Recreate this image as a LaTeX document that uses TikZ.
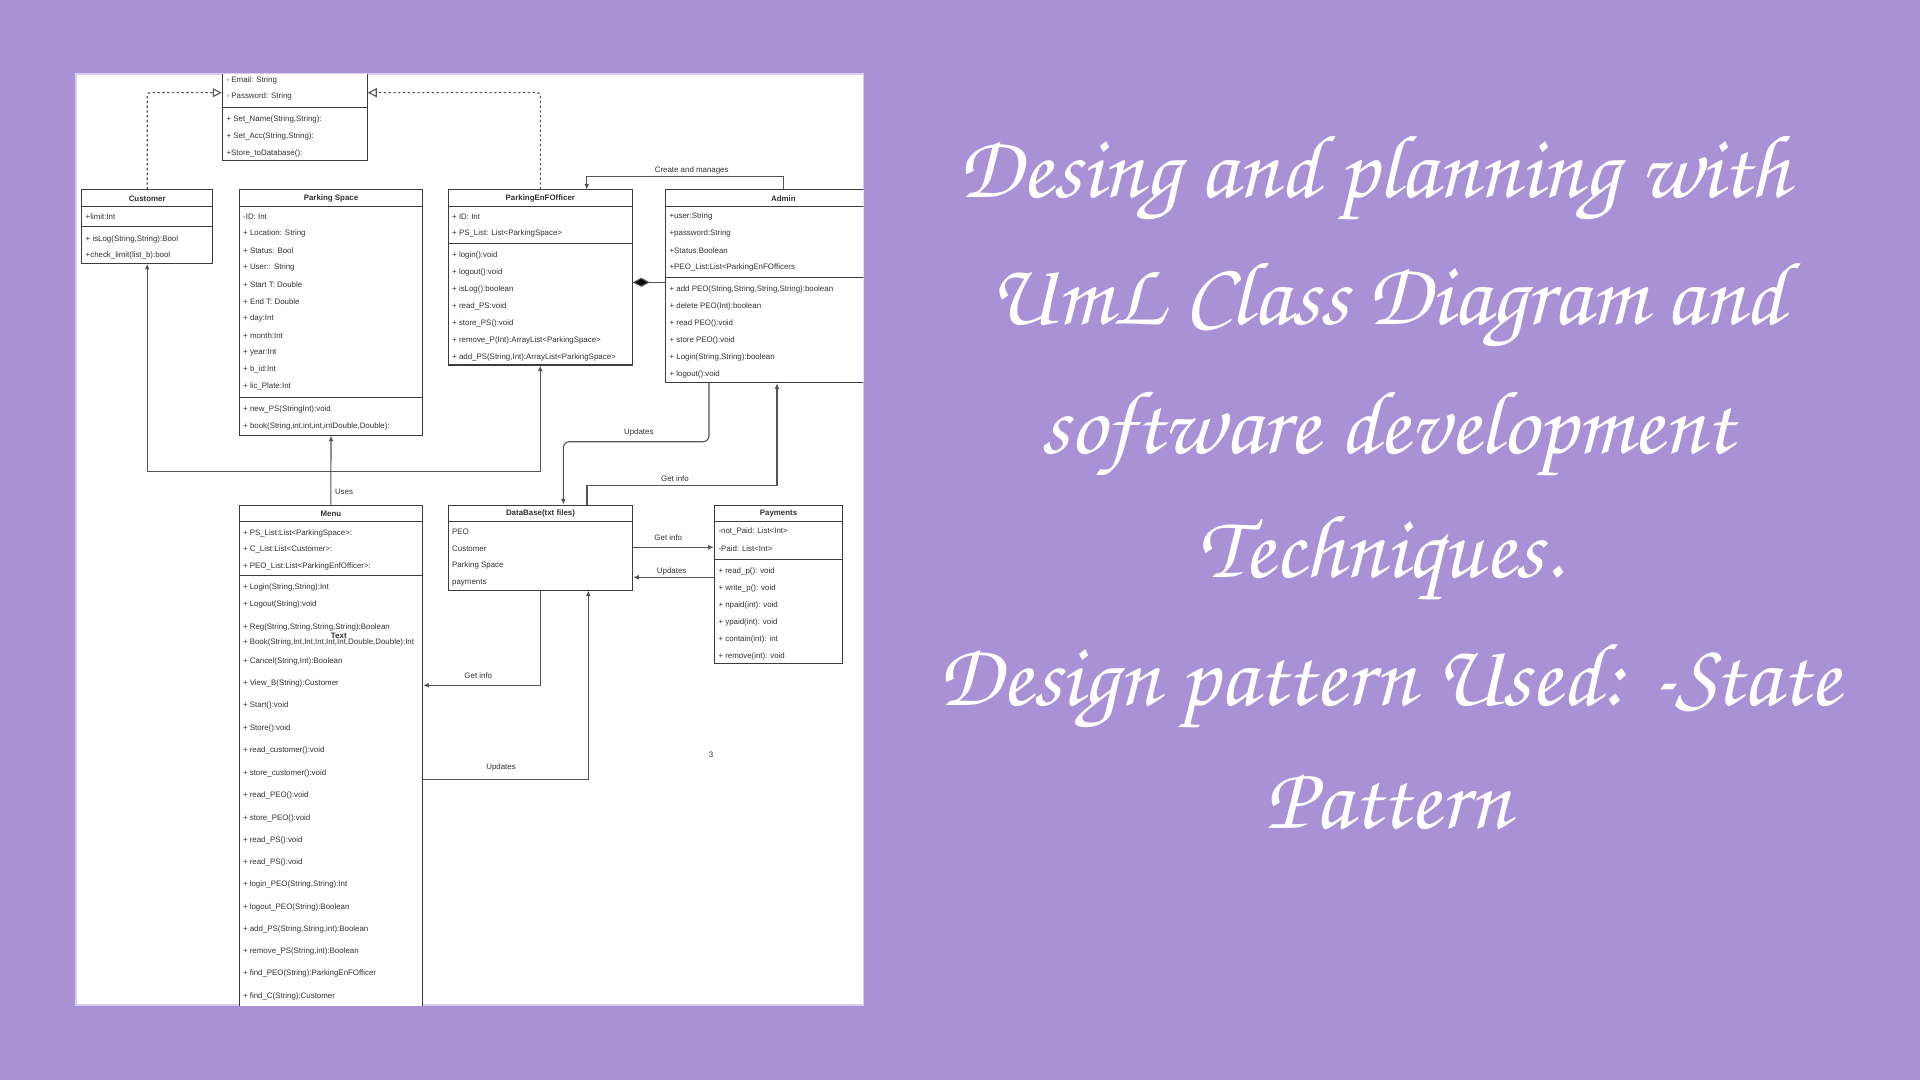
\documentclass[tikz,border=0pt]{standalone}
\usepackage{fontspec}
\setmainfont{Liberation Sans}
\newfontfamily\titlefont{texgyrechorus-mediumitalic.otf}
\usetikzlibrary{arrows.meta,fit}
\definecolor{bgc}{RGB}{168,146,213}
\definecolor{panelb}{RGB}{214,204,238}
\definecolor{boxc}{RGB}{60,60,60}
\definecolor{linec}{RGB}{85,85,85}
\definecolor{txtc}{RGB}{50,50,50}
\newcommand\diafont{\fontsize{3.95}{4.6}\selectfont}
\tikzset{
 boxst/.style={draw=boxc, line width=0.5pt, fill=white, inner sep=0pt},
 sepl/.style={draw=boxc, line width=0.5pt},
 rowtxt/.style={anchor=west, inner sep=0pt, font=\diafont, text=txtc},
 ttl/.style={inner sep=0pt, font=\diafont\bfseries, text=txtc},
 conn/.style={draw=linec, line width=0.55pt},
 dconn/.style={conn, dash pattern=on 1.2pt off 1.2pt, rounded corners=1.5pt},
 lbl/.style={inner sep=0pt, font=\diafont, text=txtc},
 tip/.style={-{Latex[length=2.8pt,width=2.4pt]}},
 tipb/.style={{Latex[length=2.8pt,width=2.4pt]}-{Latex[length=2.8pt,width=2.4pt]}},
 otri/.style={-{Triangle[open,length=4.5pt,width=4.5pt,fill=white]}},
 bigt/.style={anchor=base, inner sep=0pt, text=white, font=\titlefont\fontsize{45}{54}\selectfont}
}
\begin{document}
\begin{tikzpicture}[x=0.5pt,y=-0.5pt]
\fill[bgc] (0,0) rectangle (1920,1080);
\useasboundingbox (0,0) rectangle (1920,1080);
\fill[white] (76,74.3) rectangle (863.3,1005);
\draw[panelb, line width=0.8pt] (76,74.3) rectangle (863.3,1005);
\begin{scope}
\clip (76,74.3) rectangle (863.3,1005);
% boxes
\node[boxst, fit={(222.3,40) (367.3,160.7)}] (acc) {};
\node[boxst, fit={(81.7,190) (212.7,263.3)}] (cust) {};
\node[boxst, fit={(239.3,190) (422.7,435)}] (ps) {};
\node[boxst, fit={(448.3,190) (632.3,365)}] (peo) {};
\node[boxst, fit={(665.7,190) (901,382.7)}] (admin) {};
\node[boxst, fit={(239,505) (422.7,1030)}] (menu) {};
\node[boxst, fit={(448.3,505) (632.7,590)}] (db) {};
\node[boxst, fit={(714.3,505) (842.7,663.3)}] (pay) {};
% separators
\draw[sepl] (acc.west |- 0,107.3) -- (acc.east |- 0,107.3);
\foreach \b/\ya/\yb in {cust/206.7/226.7, ps/206.7/397.3, peo/206.7/243.3, admin/206.7/277.7, menu/521.7/575, pay/521.7/559}{
  \draw[sepl] (\b.west |- 0,\ya) -- (\b.east |- 0,\ya);
  \draw[sepl] (\b.west |- 0,\yb) -- (\b.east |- 0,\yb);
}
\draw[sepl] (db.west |- 0,521.7) -- (db.east |- 0,521.7);
% titles
\node[ttl] (cust-t) at (cust.north |- 0,198.8) {Customer};
\node[ttl] (ps-t) at (ps.north |- 0,198.8) {Parking Space};
\node[ttl] (peo-t) at (peo.north |- 0,198.8) {ParkingEnFOfficer};
\node[ttl] (admin-t) at (admin.north |- 0,198.8) {Admin};
\node[ttl] (menu-t) at (menu.north |- 0,513.8) {Menu};
\node[ttl] (db-t) at (db.north |- 0,513.8) {DataBase(txt files)};
\node[ttl] (pay-t) at (pay.north |- 0,513.8) {Payments};
% acc rows
\foreach \yy/\t [count=\i] in {80/{- Email: String}, 96.7/{- Password: String}, 119.7/{+ Set\_Name(String,String):}, 136.4/{+ Set\_Acc(String,String):}, 153/{+Store\_toDatabase():}}
  \node[rowtxt] (acc-r\i) at (226.2,\yy) {\t};
% customer
\foreach \yy/\t [count=\i] in {216.4/{+limit:Int}, 239/{+ isLog(String,String):Bool}, 255.7/{+check\_limit(list\_b):bool}}
  \node[rowtxt] (cust-r\i) at (85.3,\yy) {\t};
% parking space
\foreach \t [count=\i] in {{-ID: Int}, {+ Location: String}, {+ Status: Bool}, {+ User:: String}, {+ Start T: Double}, {+ End T: Double}, {+ day:Int}, {+ month:Int}, {+ year:Int}, {+ b\_id:Int}, {+ lic\_Plate:Int}}
  \node[rowtxt] (ps-a\i) at (242.8,{216.4+17.03*(\i-1)}) {\t};
\node[rowtxt] (ps-m1) at (242.8,409.7) {+ new\_PS(StringInt):void};
\node[rowtxt] (ps-m2) at (242.8,426.7) {+ book(String,int,int,int,intDouble,Double):};
% peo
\node[rowtxt] (peo-a1) at (451.8,216.4) {+ ID: Int};
\node[rowtxt] (peo-a2) at (451.8,233.4) {+ PS\_List: List<ParkingSpace>};
\foreach \t [count=\i] in {{+ login():void}, {+ logout():void}, {+ isLog():boolean}, {+ read\_PS:void}, {+ store\_PS():void}, {+ remove\_P(Int):ArrayList<ParkingSpace>}, {+ add\_PS(String,Int):ArrayList<ParkingSpace>}}
  \node[rowtxt] (peo-m\i) at (451.8,{255.7+16.95*(\i-1)}) {\t};
% admin
\foreach \t [count=\i] in {{+user:String}, {+password:String}, {+Status:Boolean}, {+PEO\_List:List<ParkingEnFOfficers}}
  \node[rowtxt] (admin-a\i) at (669.2,{216.4+17*(\i-1)}) {\t};
\foreach \t [count=\i] in {{+ add PEO(String,String,String,String):boolean}, {+ delete PEO(Int):boolean}, {+ read PEO():void}, {+ store PEO():void}, {+ Login(String,String):boolean}, {+ logout():void}}
  \node[rowtxt] (admin-m\i) at (669.2,{289.7+17.05*(\i-1)}) {\t};
% menu
\foreach \yy/\t [count=\i] in {533/{+ PS\_List:List<ParkingSpace>:}, 549.7/{+ C\_List:List<Customer>:}, 566.4/{+ PEO\_List:List<ParkingEnfOfficer>:}}
  \node[rowtxt] (menu-a\i) at (242.6,\yy) {\t};
\foreach \yy/\t [count=\i] in {587.4/{+ Login(String,String):Int}, 604/{+ Logout(String):void}, 627.4/{+ Reg(String,String,String,String):Boolean}, 642.4/{+ Book(String,Int,Int,Int,Int,Int,Double,Double):Int}, 661.4/{+ Cancel(String,Int):Boolean}, 683.4/{+ View\_B(String):Customer}, 705.7/{+ Start():void}, 728.4/{+ Store():void}, 750.7/{+ read\_customer():void}, 773/{+ store\_customer():void}, 795.7/{+ read\_PEO():void}, 818/{+ store\_PEO():void}, 840.2/{+ read\_PS():void}, 862.4/{+ read\_PS():void}, 884.7/{+ login\_PEO(String,String):Int}, 907/{+ logout\_PEO(String):Boolean}, 929.2/{+ add\_PS(String,String,int):Boolean}, 951.7/{+ remove\_PS(String,int):Boolean}, 973.9/{+ find\_PEO(String):ParkingEnFOfficer}, 996/{+ find\_C(String):Customer}}
  \node[rowtxt] (menu-m\i) at (242.6,\yy) {\t};
\node[ttl] (menu-x) at (338.8,635.8) {Text};
% database
\foreach \yy/\t [count=\i] in {531.4/PEO, 548.4/Customer, 565.7/{Parking Space}, 582.7/payments}
  \node[rowtxt] (db-a\i) at (451.8,\yy) {\t};
% payments
\foreach \yy/\t [count=\i] in {531.4/{-not\_Paid: List<Int>}, 548.4/{-Paid: List<Int>}, 571/{+ read\_p(): void}, 588.4/{+ write\_p(): void}, 605.7/{+ npaid(int): void}, 622.4/{+ ypaid(int): void}, 639.4/{+ contain(int): int}, 656/{+ remove(int): void}}
  \node[rowtxt] (pay-r\i) at (718.1,\yy) {\t};
% connectors
\draw[dconn, otri] (cust.north) |- (acc.west |- 0,92.7);
\draw[dconn, otri] (peo.north) |- (acc.east |- 0,92.7);
\draw[conn, tipb] (cust.south) -- (cust.south |- 0,471.7) -| (peo.south);
\draw[conn, tip] (menu.north) -- (ps.south);
\node[lbl] (l-uses) at (344,492.3) {Uses};
\draw[conn, tip] (admin.north) -- ++(0,-13.3) -| (peo.north -| 586.7,0);
\node[lbl] (l-cm) at (691.7,170) {Create and manages};
\draw[conn, {Diamond[length=8.5pt,width=4.5pt,fill=black]}-] (peo.east |- 0,282.3) -- (admin.west |- 0,282.3);
\draw[conn, tip, rounded corners=3pt] (admin.south -| 709,0) |- (563.4,441.7) -- (db.north -| 563.4,0);
\node[lbl] (l-up1) at (638.8,432.7) {Updates};
\draw[conn, tip] (db.north -| 587,0) -- (587,485.3) -| (admin.south -| 777,0);
\node[lbl] (l-gi1) at (675,479) {Get info};
\draw[conn, tip] (db.east |- 0,547.3) -- (pay.west |- 0,547.3);
\node[lbl] (l-gi2) at (668.3,537.7) {Get info};
\draw[conn, tip] (pay.west |- 0,577.3) -- (db.east |- 0,577.3);
\node[lbl] (l-up2) at (671.7,571) {Updates};
\draw[conn, tip] (db.south) |- (menu.east |- 0,685.3);
\node[lbl] (l-gi3) at (478.3,676) {Get info};
\draw[conn, tip] (menu.east |- 0,779.3) -| (db.south -| 588.3,0);
\node[lbl] (l-up3) at (501,767.7) {Updates};
\node[lbl] (pg) at (711,754.3) {3};
\end{scope}
% title text
\node[bigt] (t1) at (1374,198) {Desing and planning with};
\node[bigt] (t2) at (1387,325) {UmL Class Diagram and};
\node[bigt] (t3) at (1387,453) {software development};
\node[bigt] (t4) at (1381,577) {Techniques.};
\node[bigt] (t5) at (1389,705) {Design pattern Used: -State};
\node[bigt] (t6) at (1388,828) {Pattern};
\end{tikzpicture}
\end{document}
